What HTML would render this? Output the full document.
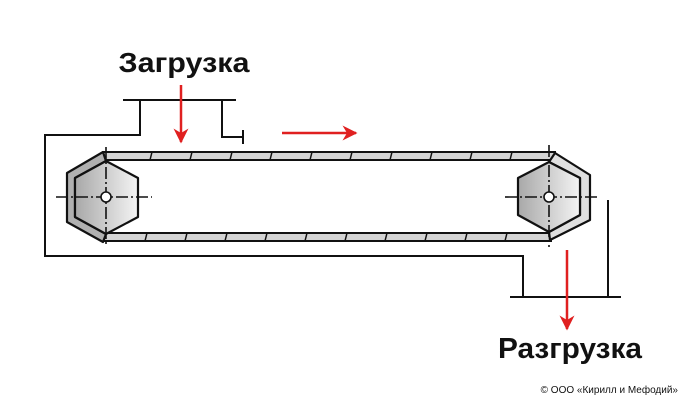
<!DOCTYPE html>
<html><head><meta charset="utf-8"><style>
body{margin:0;background:#fff;width:686px;height:402px;overflow:hidden}
svg{display:block}
</style></head><body>
<svg width="686" height="402" viewBox="0 0 686 402" xmlns="http://www.w3.org/2000/svg">
<defs>
<linearGradient id="g" x1="0" x2="1" y1="0" y2="0"><stop offset="0" stop-color="#a8a8a8"/><stop offset="1" stop-color="#f4f4f4"/></linearGradient>
<marker id="ah" viewBox="0 0 10 10" refX="9" refY="5" markerWidth="7" markerHeight="6" orient="auto"><path d="M0,0 L10,5 L0,10 L3,5z" fill="#e02020"/></marker>
</defs>
<g stroke="#111" stroke-width="2" fill="none">
<polyline points="140,100 140,135 45,135 45,256 523,256 523,297"/>
<line x1="123" y1="100" x2="236" y2="100"/>
<polyline points="222,100 222,137 243,137"/>
<line x1="243" y1="130" x2="243" y2="144"/>
<line x1="510" y1="297" x2="621" y2="297"/>
<line x1="608" y1="200" x2="608" y2="297"/>
<rect x="103" y="152" width="452" height="8" fill="#d4d4d4"/>
<rect x="103" y="233" width="448" height="8" fill="#d4d4d4"/>
</g>
<g stroke="#111" stroke-width="1.5">
<line x1="150" y1="160" x2="152" y2="152"/><line x1="190" y1="160" x2="192" y2="152"/><line x1="230" y1="160" x2="232" y2="152"/><line x1="270" y1="160" x2="272" y2="152"/><line x1="310" y1="160" x2="312" y2="152"/><line x1="350" y1="160" x2="352" y2="152"/><line x1="390" y1="160" x2="392" y2="152"/><line x1="430" y1="160" x2="432" y2="152"/><line x1="470" y1="160" x2="472" y2="152"/><line x1="510" y1="160" x2="512" y2="152"/>
<line x1="145" y1="241" x2="147" y2="233"/><line x1="185" y1="241" x2="187" y2="233"/><line x1="225" y1="241" x2="227" y2="233"/><line x1="265" y1="241" x2="267" y2="233"/><line x1="305" y1="241" x2="307" y2="233"/><line x1="345" y1="241" x2="347" y2="233"/><line x1="385" y1="241" x2="387" y2="233"/><line x1="425" y1="241" x2="427" y2="233"/><line x1="465" y1="241" x2="467" y2="233"/><line x1="505" y1="241" x2="507" y2="233"/>
</g>
<g stroke="#111" stroke-width="2.2" stroke-linejoin="round">
<polygon points="103,152 67,173 67,222 103,242 106,234 75,217 75,178 106,161" fill="#b0b0b0"/>
<polygon points="106,161 138,178 138,217 106,234 75,217 75,178" fill="url(#g)"/>
<polygon points="555,153 590,175 590,220 550,240 549,232 580,215 580,178 549,162" fill="#e0e0e0"/>
<polygon points="549,162 580,178 580,215 549,232 518,215 518,178" fill="url(#g)"/>
</g>
<g stroke="#111" stroke-width="1.6" stroke-dasharray="12,3,2,3" fill="none">
<line x1="56" y1="197" x2="152" y2="197"/><line x1="106" y1="147" x2="106" y2="247"/>
<line x1="505" y1="197" x2="600" y2="197"/><line x1="549" y1="145" x2="549" y2="247"/>
</g>
<circle cx="106" cy="197" r="5" fill="#fff" stroke="#111" stroke-width="1.6"/>
<circle cx="549" cy="197" r="5" fill="#fff" stroke="#111" stroke-width="1.6"/>
<g stroke="#e02020" stroke-width="2.5" fill="none">
<line x1="181" y1="85" x2="181" y2="142" marker-end="url(#ah)"/>
<line x1="282" y1="133" x2="356" y2="133" marker-end="url(#ah)"/>
<line x1="567" y1="250" x2="567" y2="329" marker-end="url(#ah)"/>
</g>
<g font-family="Liberation Sans, sans-serif" font-weight="bold" fill="#111">
<text x="184" y="72" font-size="28" text-anchor="middle" textLength="131" lengthAdjust="spacingAndGlyphs">Загрузка</text>
<text x="570" y="358" font-size="29" text-anchor="middle" textLength="144" lengthAdjust="spacingAndGlyphs">Разгрузка</text>
</g>
<text x="678" y="393" font-family="Liberation Sans, sans-serif" font-size="10" text-anchor="end" fill="#111">© ООО «Кирилл и Мефодий»</text>
</svg>
</body></html>
